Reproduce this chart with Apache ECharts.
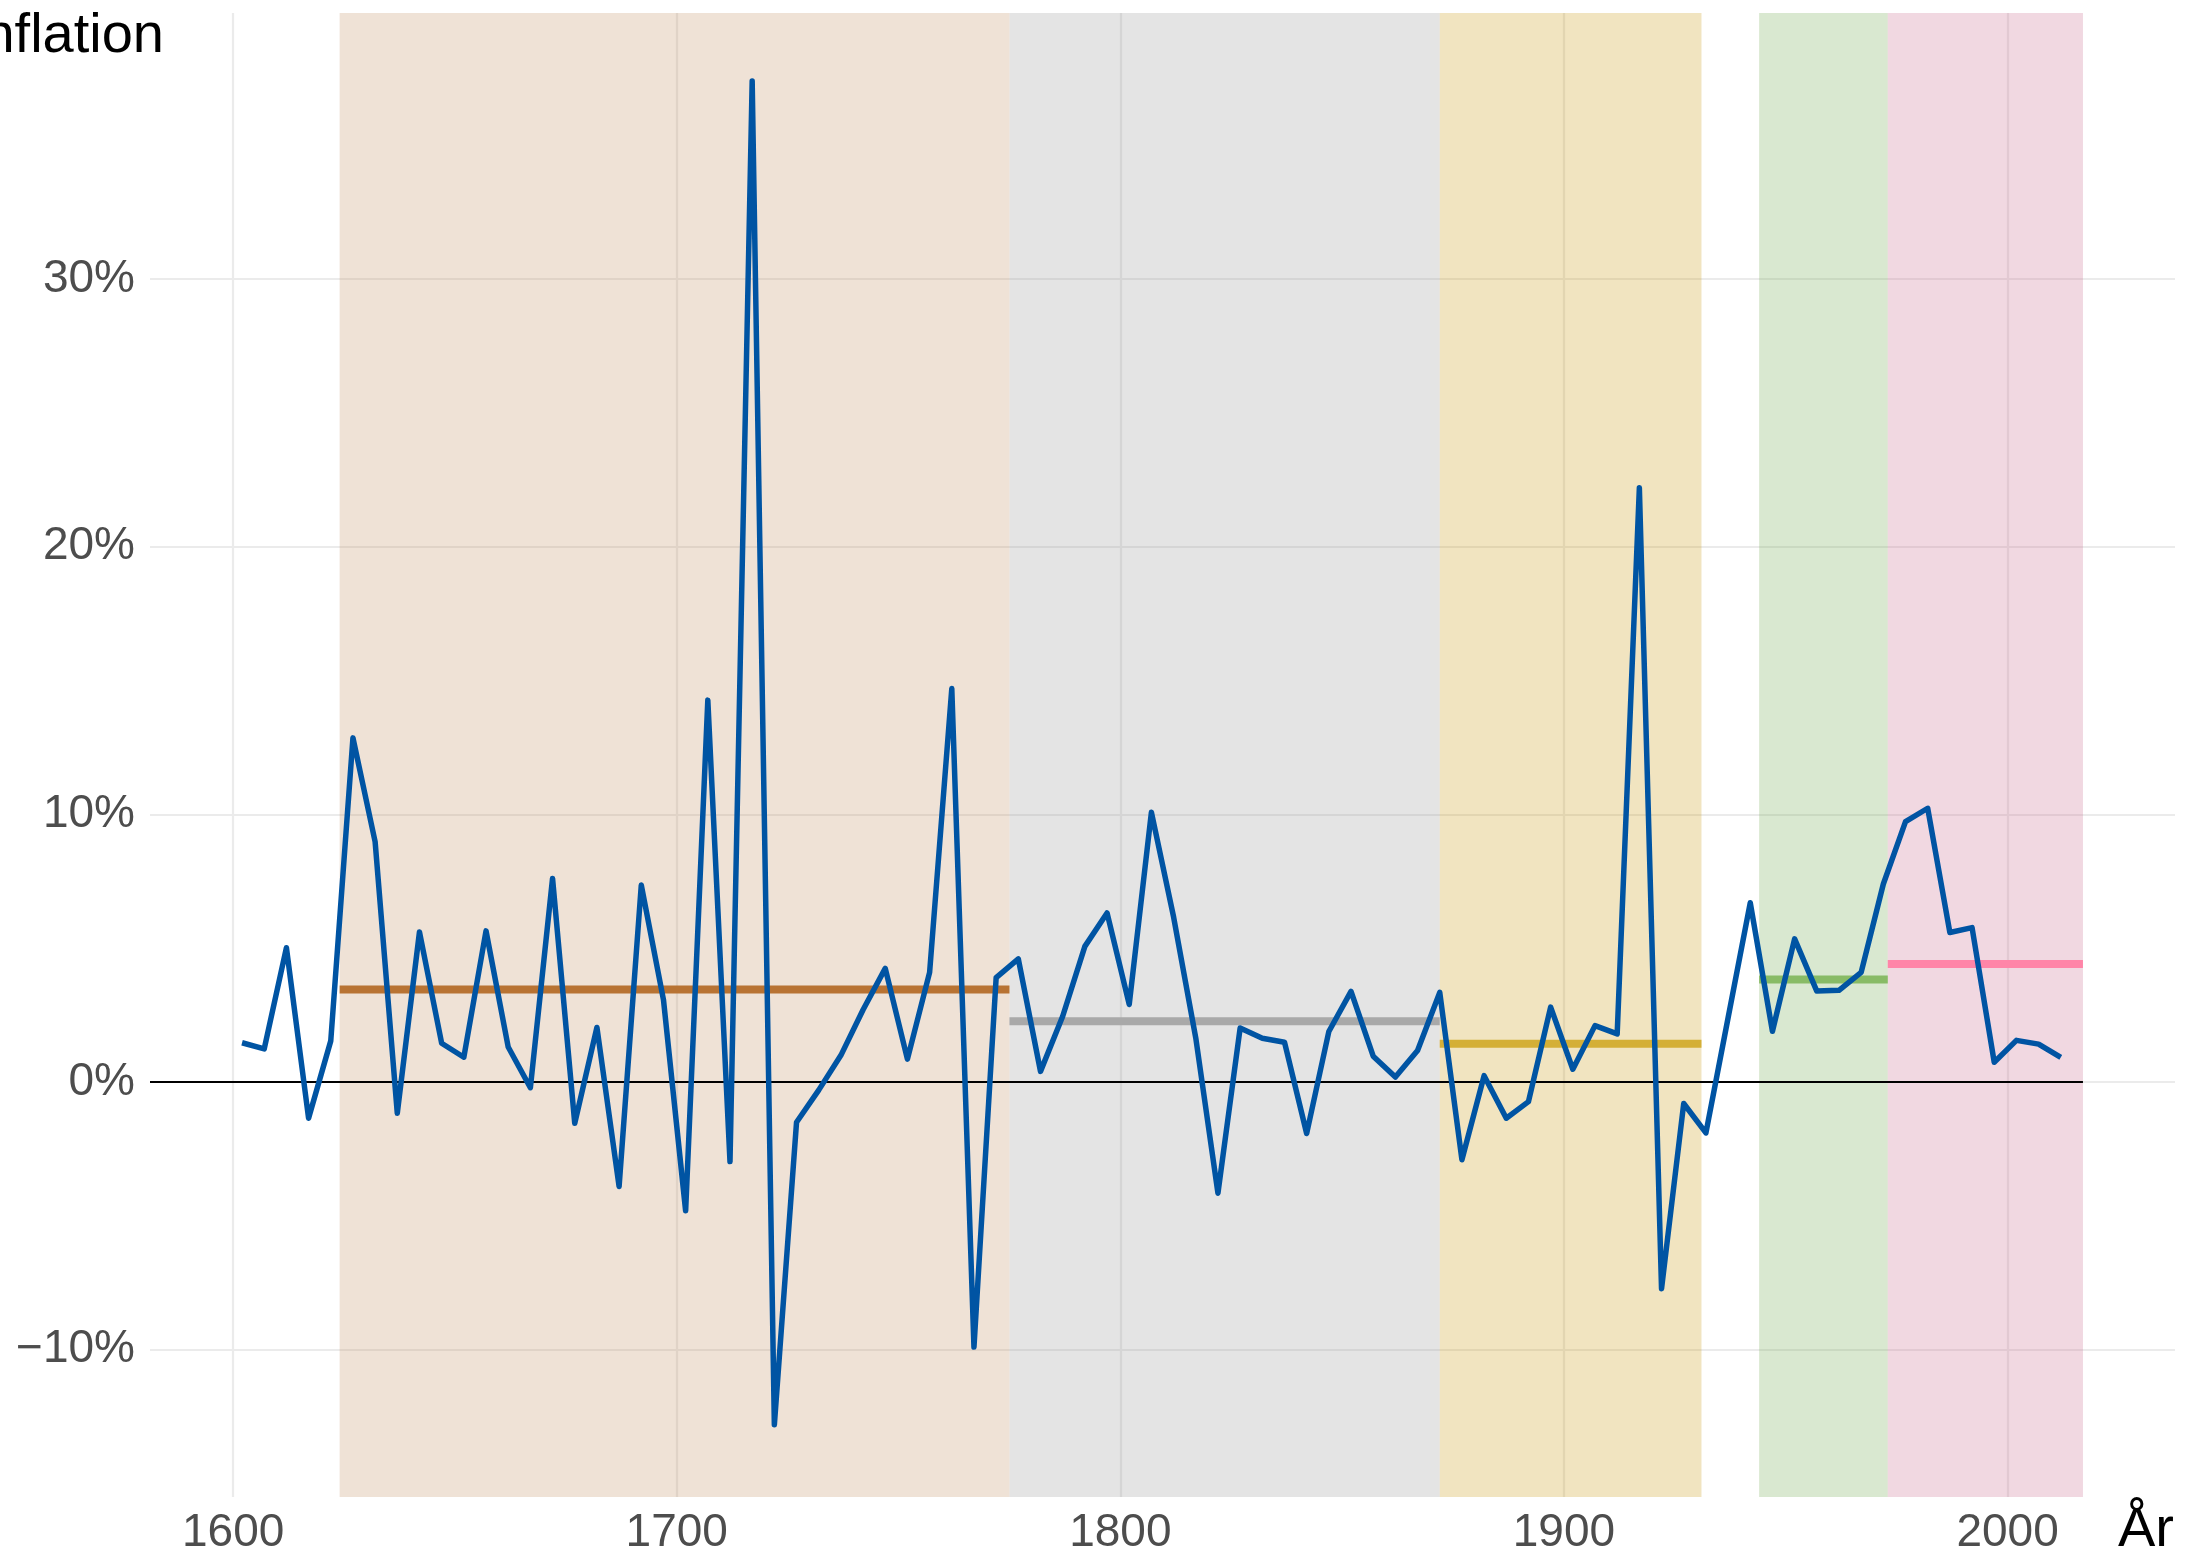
<!DOCTYPE html>
<html>
<head>
<meta charset="utf-8">
<script src="https://cdn.jsdelivr.net/npm/echarts@6/dist/echarts.min.js"></script>
<style>
  html, body { margin: 0; padding: 0; background: #fff; }
  #chart { width: 2187px; height: 1564px; }
</style>
</head>
<body>
<div id="chart"></div>
<script>
// ---- data ----
const years = [1602, 1607, 1612, 1617, 1622, 1627, 1632, 1637, 1642, 1647,
  1652, 1657, 1662, 1667, 1672, 1677, 1682, 1687, 1692, 1697,
  1702, 1707, 1712, 1717, 1722, 1727, 1732, 1737, 1742, 1747,
  1752, 1757, 1762, 1767, 1772, 1777, 1782, 1787, 1792, 1797,
  1802, 1807, 1812, 1817, 1822, 1827, 1832, 1837, 1842, 1847,
  1852, 1857, 1862, 1867, 1872, 1877, 1882, 1887, 1892, 1897,
  1902, 1907, 1912, 1917, 1922, 1927, 1932, 1937, 1942, 1947,
  1952, 1957, 1962, 1967, 1972, 1977, 1982, 1987, 1992, 1997,
  2002, 2007, 2012];
const inflation = [1.47, 1.24, 5.02, -1.35, 1.54, 12.86, 8.98, -1.16, 5.61, 1.45,
  0.93, 5.65, 1.31, -0.21, 7.61, -1.54, 2.04, -3.90, 7.36, 3.08,
  -4.81, 14.27, -2.97, 37.4, -12.8, -1.5, -0.3, 1.0, 2.7, 4.25,
  0.86, 4.1, 14.7, -9.9, 3.9, 4.6, 0.4, 2.46, 5.07, 6.32,
  2.9, 10.08, 6.17, 1.65, -4.15, 2.02, 1.64, 1.49, -1.92, 1.89,
  3.39, 0.97, 0.19, 1.18, 3.35, -2.9, 0.24, -1.35, -0.73, 2.8,
  0.48, 2.11, 1.8, 22.2, -7.72, -0.8, -1.9, 2.4, 6.7, 1.9,
  5.35, 3.4, 3.43, 4.1, 7.4, 9.73, 10.23, 5.59, 5.77, 0.74,
  1.56, 1.42, 0.92];
const periodStart = [1624, 1775, 1872, 1944, 1973];
const periodEnd   = [1775, 1872, 1931, 1973, 2017];
const periodMean  = [3.46, 2.27, 1.43, 3.83, 4.41];
const xTicks = [1600, 1700, 1800, 1900, 2000];
const yTicks = [-10, 0, 10, 20, 30];

// ---- styles ----
const meanColors = ['#B87333', '#A9A9A9', '#D4AF37', '#88BB66', '#FF85A8'];
const bgColors = ['rgba(191,139,91,0.25)', 'rgba(147,147,147,0.25)', 'rgba(199,147,3,0.25)',
                  'rgba(103,163,67,0.25)', 'rgba(199,99,135,0.25)'];
const FONT = '"Liberation Sans", Arial, sans-serif';
const X_MIN = 1581.25, X_MAX = 2037.75, Y_MIN = -15.5, Y_MAX = 39.94;

const chart = echarts.init(document.getElementById('chart'), null, { renderer: 'canvas' });

const series = [];
// backgrounds
series.push({
  type: 'line', data: [], z: 1, silent: true,
  markArea: {
    silent: true,
    data: periodStart.map((s, i) => [
      { xAxis: s, itemStyle: { color: bgColors[i] } },
      { xAxis: periodEnd[i] }
    ])
  }
});
// zero line
series.push({
  type: 'line', data: [], z: 2, silent: true,
  markLine: {
    silent: true, symbol: 'none', label: { show: false },
    lineStyle: { color: '#000', width: 2, type: 'solid' },
    data: [[{ coord: [X_MIN, 0] }, { coord: [periodEnd[periodEnd.length - 1], 0] }]]
  }
});
// period means
periodStart.forEach((s, i) => {
  series.push({
    type: 'line', z: 3, silent: true, symbol: 'none',
    lineStyle: { color: meanColors[i], width: 8, cap: 'butt' },
    data: [[s, periodMean[i]], [periodEnd[i], periodMean[i]]]
  });
});
// inflation line
series.push({
  type: 'line', z: 5, symbol: 'none',
  lineStyle: { color: '#0054A3', width: 5.5, join: 'round', cap: 'butt' },
  data: years.map((y, i) => [y, inflation[i]])
});

chart.setOption({
  animation: false,
  backgroundColor: '#fff',
  grid: { left: 150, right: 12, top: 13, bottom: 67, containLabel: false, outerBoundsMode: 'none' },
  xAxis: {
    type: 'value', min: X_MIN, max: X_MAX,
    axisLine: { show: false },
    axisTick: { show: false, customValues: xTicks },
    axisLabel: { customValues: xTicks, color: '#4D4D4D', fontSize: 46, fontFamily: FONT, margin: 13,
                 formatter: v => String(v) },
    splitLine: { show: true, lineStyle: { color: '#EBEBEB', width: 2.2 } }
  },
  yAxis: {
    type: 'value', min: Y_MIN, max: Y_MAX,
    axisLine: { show: false },
    axisTick: { show: false, customValues: yTicks },
    axisLabel: { customValues: yTicks, color: '#4D4D4D', fontSize: 46, fontFamily: FONT, margin: 15,
                 formatter: v => (v < 0 ? '\u2212' + Math.abs(v) : String(v)) + '%' },
    splitLine: { show: true, lineStyle: { color: '#EBEBEB', width: 2.2 } }
  },
  graphic: [
    { type: 'text', x: 164, y: 36.6, z: 10,
      style: { text: 'Inflation', font: '56px ' + FONT, fill: '#000', align: 'right', verticalAlign: 'middle' } },
    { type: 'text', x: 2174, y: 1530.6, z: 10,
      style: { text: 'År', font: '56px ' + FONT, fill: '#000', align: 'right', verticalAlign: 'middle' } }
  ],
  series: series
});
</script>
</body>
</html>
